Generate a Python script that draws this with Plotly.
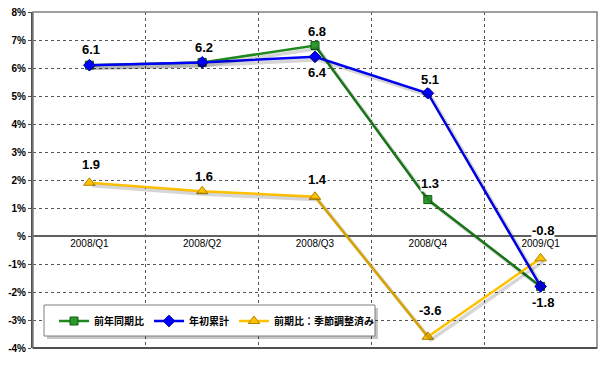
import plotly.graph_objects as go

categories = ["2008/Q1", "2008/Q2", "2008/Q3", "2008/Q4", "2009/Q1"]
yoy = [6.1, 6.2, 6.8, 1.3, -1.8]          # 前年同期比
ytd = [6.1, 6.2, 6.4, 5.1, -1.8]          # 年初累計
qoq = [1.9, 1.6, 1.4, -3.6, -0.8]         # 前期比：季節調整済み
ytick_vals = [-4, -3, -2, -1, 0, 1, 2, 3, 4, 5, 6, 7, 8]
ytick_text = ["-4%", "-3%", "-2%", "-1%", "%", "1%", "2%", "3%", "4%", "5%", "6%", "7%", "8%"]

# which points carry a data label (shared points are labelled once)
yoy_show = [True, True, True, True, True]
ytd_show = [False, False, True, True, False]
qoq_show = [True, True, True, True, True]

# label placement (pixel offsets, style only)
yoy_shift = [16, 15, 14, 16, -16]
ytd_shift = [0, 0, -16, 14, 0]
qoq_shift = [18, 15, 17, 26, 28]

FONT = "Liberation Sans, Arial, sans-serif"
LBL = dict(family=FONT, size=13, color="black", weight="bold")

series = [
    dict(name="前年同期比", y=yoy, show=yoy_show, shift=yoy_shift, color="#1e8a1e", rank=1,
         marker=dict(symbol="square", size=8, color="#2e9a2e", line=dict(color="#0d5c0d", width=1))),
    dict(name="前期比：季節調整済み", y=qoq, show=qoq_show, shift=qoq_shift, color="#ffc000", rank=3,
         marker=dict(symbol="triangle-up", size=10, color="#ffc000", line=dict(color="#b08400", width=1))),
    dict(name="年初累計", y=ytd, show=ytd_show, shift=ytd_shift, color="#0000ff", rank=2,
         marker=dict(symbol="diamond", size=9, color="#0000ff", line=dict(color="#00008a", width=1))),
]

fig = go.Figure()

# soft drop shadows (same data on a pixel-shifted overlay axis pair)
for s in series:
    fig.add_trace(go.Scatter(x=categories, y=s["y"], mode="lines", xaxis="x2", yaxis="y2",
                             line=dict(color="rgba(0,0,0,0.16)", width=3.5),
                             showlegend=False, hoverinfo="skip"))

annotations = []
for s in series:
    fig.add_trace(go.Scatter(
        x=categories, y=s["y"], name=s["name"], mode="lines+markers",
        line=dict(color=s["color"], width=2.5), marker=s["marker"],
        legendrank=s["rank"], cliponaxis=False))
    for c, v, show, sh in zip(categories, s["y"], s["show"], s["shift"]):
        if show:
            annotations.append(dict(x=c, y=v, xref="x", yref="y", text=f"{v:.1f}",
                                    showarrow=False, yshift=sh, xshift=2, font=LBL,
                                    bgcolor="white", borderpad=0))

L, R, T, B, W, H = 33, 3, 12, 24, 600, 372
px_w, px_h = W - L - R, H - T - B
dx = 3 / px_w * 5.0
dy = 3 / px_h * 12.0

def px_x(x):
    return (x - L) / px_w

def px_y(y):
    return (H - B - y) / px_h

fig.update_layout(
    width=W, height=H,
    margin=dict(l=L, r=R, t=T, b=B),
    paper_bgcolor="white", plot_bgcolor="white",
    showlegend=True,
    legend=dict(orientation="h", x=px_x(54), y=px_y(321), xanchor="left", yanchor="middle",
                bgcolor="rgba(0,0,0,0)", borderwidth=0,
                font=dict(family="Noto Sans CJK JP", size=10, color="black", weight="bold"),
                itemwidth=30, traceorder="normal"),
    xaxis=dict(type="category", range=[-0.5, 4.5], tickson="boundaries",
               showgrid=True, gridcolor="#555555", griddash="dot", gridwidth=1,
               anchor="free", position=1/3, showline=False, ticks="",
               tickfont=dict(family=FONT, size=10, color="black"),
               zeroline=False, automargin=False),
    yaxis=dict(range=[-4, 8], tickvals=ytick_vals, ticktext=ytick_text,
               showgrid=True, gridcolor="#555555", griddash="dot", gridwidth=1,
               zeroline=True, zerolinecolor="#606060", zerolinewidth=1.5,
               showline=True, linecolor="#505050", linewidth=2,
               ticks="outside", ticklen=3, tickcolor="#505050",
               tickfont=dict(family=FONT, size=10, color="black", weight="bold"),
               automargin=False),
    xaxis2=dict(type="category", range=[-0.5 - dx, 4.5 - dx], overlaying="x", visible=False),
    yaxis2=dict(range=[-4 + dy, 8 + dy], overlaying="y", visible=False),
    annotations=annotations,
    shapes=[
        dict(type="rect", xref="paper", yref="paper", x0=0, x1=1, y0=0, y1=1,
             line=dict(color="#7f7f7f", width=1.5), layer="above"),
        dict(type="line", xref="paper", yref="paper", x0=0, x1=1, y0=0, y1=0,
             line=dict(color="#505050", width=2), layer="above"),
        # legend box shadow + box
        dict(type="rect", xref="paper", yref="paper", x0=px_x(47), x1=px_x(378),
             y0=px_y(339), y1=px_y(308), line=dict(width=0),
             fillcolor="rgba(0,0,0,0.22)", layer="above"),
        dict(type="rect", xref="paper", yref="paper", x0=px_x(44), x1=px_x(375),
             y0=px_y(336), y1=px_y(305), line=dict(color="#7f7f7f", width=1),
             fillcolor="white", layer="above"),
    ],
)

fig.write_html("out.html", config={"displayModeBar": False},
               post_script="document.body.style.margin='0';")
